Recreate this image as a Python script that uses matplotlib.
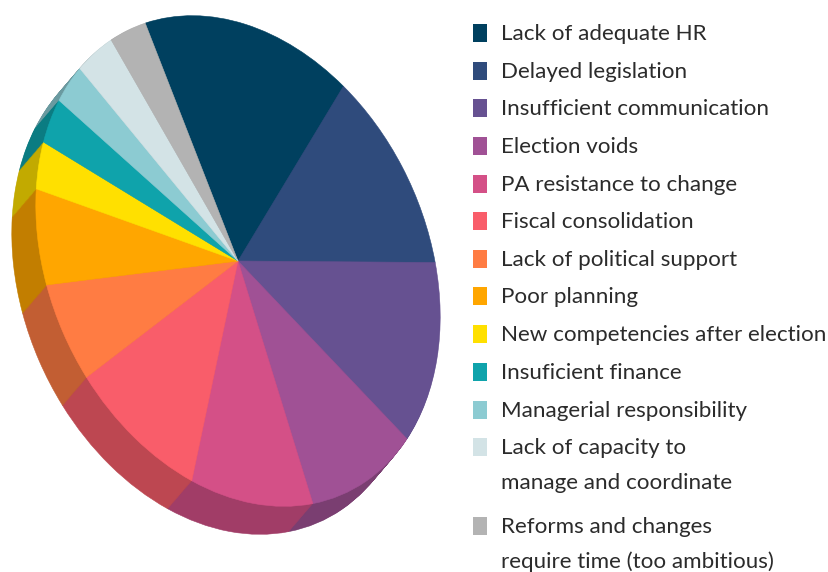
#!/usr/bin/python

# Causes of reform delays, drawn as a tilted pie with a thick edge

import matplotlib
matplotlib.use('Agg')
import matplotlib.pyplot as plt
from matplotlib.patches import Rectangle
from matplotlib.transforms import Affine2D
from matplotlib.colors import to_rgb

labels = [
    'Lack of adequate HR',
    'Delayed legislation',
    'Insufficient communication',
    'Election voids',
    'PA resistance to change',
    'Fiscal consolidation',
    'Lack of political support',
    'Poor planning',
    'New competencies after election',
    'Insuficient finance',
    'Managerial responsibility',
    'Lack of capacity to\nmanage and coordinate',
    'Reforms and changes\nrequire time (too ambitious)',
]
shares = [16.3, 12.7, 12.8, 9.7, 9.7, 9.8, 6.3, 6.3, 3.3, 3.3, 3.0, 3.5, 3.2]
colors = ['#00405F', '#2F4B7C', '#665191', '#A05195', '#D45087', '#F95D6A', '#FF7C43',
          '#FFA600', '#FFE000', '#0FA3AB', '#8CCBD2', '#D3E3E6', '#B3B3B3']

W, H = 829, 572
TOP_CUT = 17
CENTER = (238, 261)
TILT = [[200.6, -25.4], [-25.4, 244.0]]
DEPTH = (-24, 28)
LAYERS = 30
SHADE = 0.76
START = 110.1

legend_y = [33, 71, 108, 146, 184, 221, 259, 296, 334, 372, 410, 447, 526]
LINE_STEP = 35

plt.rcParams['font.family'] = ['Lato', 'DejaVu Sans']

fig = plt.figure(figsize=(W / 100, H / 100), dpi=100)


def draw_pie(ax, cols, dx, dy):
    wedges, _ = ax.pie(shares, colors=cols, startangle=START, counterclock=False)
    cx = CENTER[0] + dx
    cy = H - CENTER[1] - dy
    a, b = TILT[0]
    c, d = TILT[1]
    tr = Affine2D.from_values(a, c, b, d, cx, cy) + ax.transData
    for w, col in zip(wedges, cols):
        w.set_transform(tr)
        # thin edge hides the seams between neighbouring wedges
        w.set_edgecolor(col)
        w.set_linewidth(0.4)


# pie panel stops at TOP_CUT, so the top of the disc is sliced off flat
ax = fig.add_axes([0, 0, 1, (H - TOP_CUT) / H])

dark = [tuple(v * SHADE for v in to_rgb(c)) for c in colors]
for i in range(LAYERS, 0, -1):
    draw_pie(ax, dark, DEPTH[0] * i / LAYERS, DEPTH[1] * i / LAYERS)
draw_pie(ax, colors, 0, 0)

ax.set_aspect('auto')
ax.set_xlim(0, W)
ax.set_ylim(0, H - TOP_CUT)
ax.axis('off')

# legend in pixel coordinates
lg = fig.add_axes([0, 0, 1, 1], facecolor='none')
lg.set_xlim(0, W)
lg.set_ylim(H, 0)
lg.axis('off')
for label, col, y in zip(labels, colors, legend_y):
    lg.add_patch(Rectangle((473, y - 9), 14, 18, facecolor=col, edgecolor='none'))
    for n, line in enumerate(label.split('\n')):
        lg.text(501, y + 1 + n * LINE_STEP, line, fontsize=16.1, color='#2B2B2B',
                ha='left', va='center')

plt.savefig('out.png', dpi=100)
plt.close()
